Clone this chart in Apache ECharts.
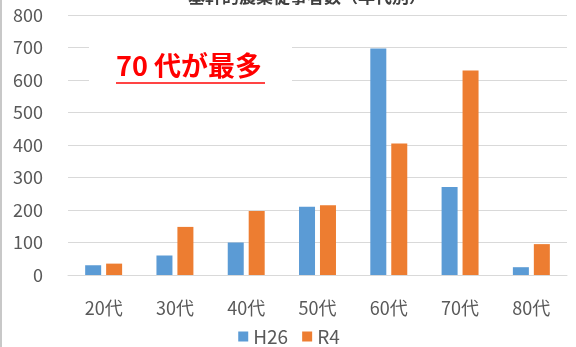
<!DOCTYPE html>
<html>
<head>
<meta charset="utf-8">
<script src="https://cdn.jsdelivr.net/npm/echarts@6/dist/echarts.min.js"></script>
<style>
  html, body { margin: 0; padding: 0; background: #ffffff; }
  #chart { width: 576px; height: 347px; border-left: 2px solid #c8c8c8; box-sizing: border-box; }
</style>
</head>
<body>
<div id="chart"></div>
<script>
// Age groups and the two survey years
const categories = ['20代', '30代', '40代', '50代', '60代', '70代', '80代'];
const seriesNames = ['H26', 'R4'];
const valuesH26 = [30, 60, 100, 210, 697, 271, 24];
const valuesR4 = [35, 148, 197, 215, 405, 629, 95];
const yTicks = { min: 0, max: 800, interval: 100 };
const titleText = '基幹的農業従事者数（年代別）';
const noteText = '70 代が最多';

const font = '"Noto Sans CJK JP", "Noto Sans", sans-serif';
const chart = echarts.init(document.getElementById('chart'));

chart.setOption({
  animation: false,
  backgroundColor: '#ffffff',
  textStyle: { fontFamily: font },
  title: {
    text: titleText,
    left: 181,
    top: -17,
    textStyle: { fontSize: 17, fontWeight: 'bold', color: '#404040', fontFamily: font }
  },
  grid: { left: 66, right: 9, top: 15, bottom: 72, containLabel: false },
  legend: {
    data: seriesNames,
    bottom: -4,
    left: 'center',
    itemWidth: 10,
    itemHeight: 10,
    itemGap: 14,
    icon: 'rect',
    textStyle: { fontSize: 19, color: '#595959', fontFamily: font }
  },
  xAxis: {
    type: 'category',
    data: categories,
    axisLine: { lineStyle: { color: '#d9d9d9' } },
    axisTick: { show: false },
    axisLabel: { fontSize: 18, color: '#595959', margin: 24, fontFamily: font }
  },
  yAxis: {
    type: 'value',
    min: yTicks.min,
    max: yTicks.max,
    interval: yTicks.interval,
    axisLine: { show: false },
    axisTick: { show: false },
    splitLine: { lineStyle: { color: '#d9d9d9', width: 1 } },
    axisLabel: { fontSize: 18, color: '#595959', margin: 25, fontFamily: font }
  },
  series: [
    {
      name: seriesNames[0],
      type: 'bar',
      data: valuesH26,
      barWidth: 16,
      barGap: '31%',
      itemStyle: { color: '#5b9bd5' }
    },
    {
      name: seriesNames[1],
      type: 'bar',
      data: valuesR4,
      barWidth: 16,
      itemStyle: { color: '#ed7d31' }
    }
  ],
  graphic: [
    {
      type: 'rect',
      shape: { x: 87, y: 34, width: 203, height: 64 },
      style: { fill: '#ffffff' },
      z: 100
    },
    {
      type: 'text',
      x: 114,
      y: 52,
      style: {
        text: noteText,
        fill: '#ff0000',
        font: 'bold 27px ' + font
      },
      z: 101
    },
    {
      type: 'line',
      shape: { x1: 114, y1: 83, x2: 263, y2: 83 },
      style: { stroke: '#ff4444', lineWidth: 2 },
      z: 101
    }
  ]
});
</script>
</body>
</html>
